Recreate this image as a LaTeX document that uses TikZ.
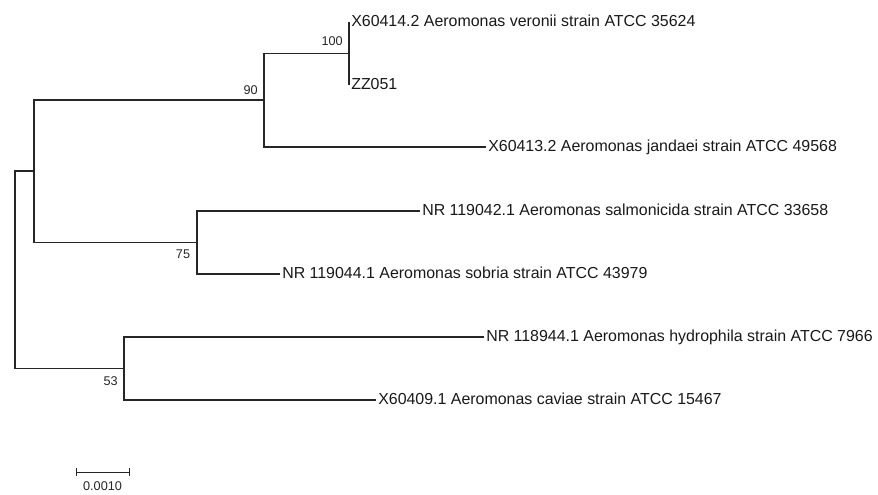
\documentclass[tikz,border=0pt]{standalone}
\usepackage{fontspec}
\setmainfont{Liberation Sans}
\usetikzlibrary{positioning}

\tikzset{
  branch/.style={line width=0.8pt, draw=black!85},
  taxon/.style={anchor=west, inner sep=1.5pt, text height=0.72em, text depth=0pt,
    font=\fontsize{11.95}{13}\selectfont, text=black!90},
  boot/.style={inner sep=0pt, font=\fontsize{9.5}{11}\selectfont, text=black!85}
}

\begin{document}
\begin{tikzpicture}[x=0.75pt, y=-0.75pt]
        \useasboundingbox (0,0) rectangle (878,494);

        % vnitrni uzly
        \coordinate (root) at (15,270);
        \coordinate (nA) at (34,171);
        \coordinate (n90) at (264,100);
        \coordinate (n100) at (349,53.5);
        \coordinate (n75) at (197,242.5);
        \coordinate (n53) at (124,368.5);

        % listy
        \node[taxon] (veronii) at (349,22) {X60414.2 Aeromonas veronii strain ATCC 35624};
        \node[taxon] (zz) at (349,85) {ZZ051};
        \node[taxon] (jandaei) at (486,147) {X60413.2 Aeromonas jandaei strain ATCC 49568};
        \node[taxon] (salmon) at (420,211) {NR 119042.1 Aeromonas salmonicida strain ATCC 33658};
        \node[taxon] (sobria) at (280,274) {NR 119044.1 Aeromonas sobria strain ATCC 43979};
        \node[taxon] (hydro) at (484,337) {NR 118944.1 Aeromonas hydrophila strain ATCC 7966};
        \node[taxon] (caviae) at (376,400) {X60409.1 Aeromonas caviae strain ATCC 15467};

        % vetve
        \draw[branch] (root) |- (nA);
        \draw[branch] (root) |- (n53);
        \draw[branch] (nA) |- (n90);
        \draw[branch] (nA) |- (n75);
        \draw[branch] (n90) |- (n100);
        \draw[branch] (n90) |- (jandaei.west);
        \draw[branch] (n100) |- (veronii.west);
        \draw[branch] (n100) |- (zz.west);
        \draw[branch] (n75) |- (salmon.west);
        \draw[branch] (n75) |- (sobria.west);
        \draw[branch] (n53) |- (hydro.west);
        \draw[branch] (n53) |- (caviae.west);

        % bootstrap
        \node[boot, above left=6pt and 4.5pt of n100] (b100) {100};
        \node[boot, above left=4pt and 4.5pt of n90] (b90) {90};
        \node[boot, below left=5.5pt and 5pt of n75] (b75) {75};
        \node[boot, below left=6pt and 4.5pt of n53] (b53) {53};

        % meritko
        \coordinate (sbL) at (76,472);
        \coordinate (sbR) at (129,472);
        \draw[branch, line width=0.7pt] (sbL) -- (sbR);
        \draw[branch, line width=0.7pt] ([yshift=3pt]sbL) -- ([yshift=-3pt]sbL);
        \draw[branch, line width=0.7pt] ([yshift=3pt]sbR) -- ([yshift=-3pt]sbR);
        \node[boot, below=7pt of sbL, xshift=19.9pt] (sblabel) {0.0010};
    \end{tikzpicture}
\end{document}
